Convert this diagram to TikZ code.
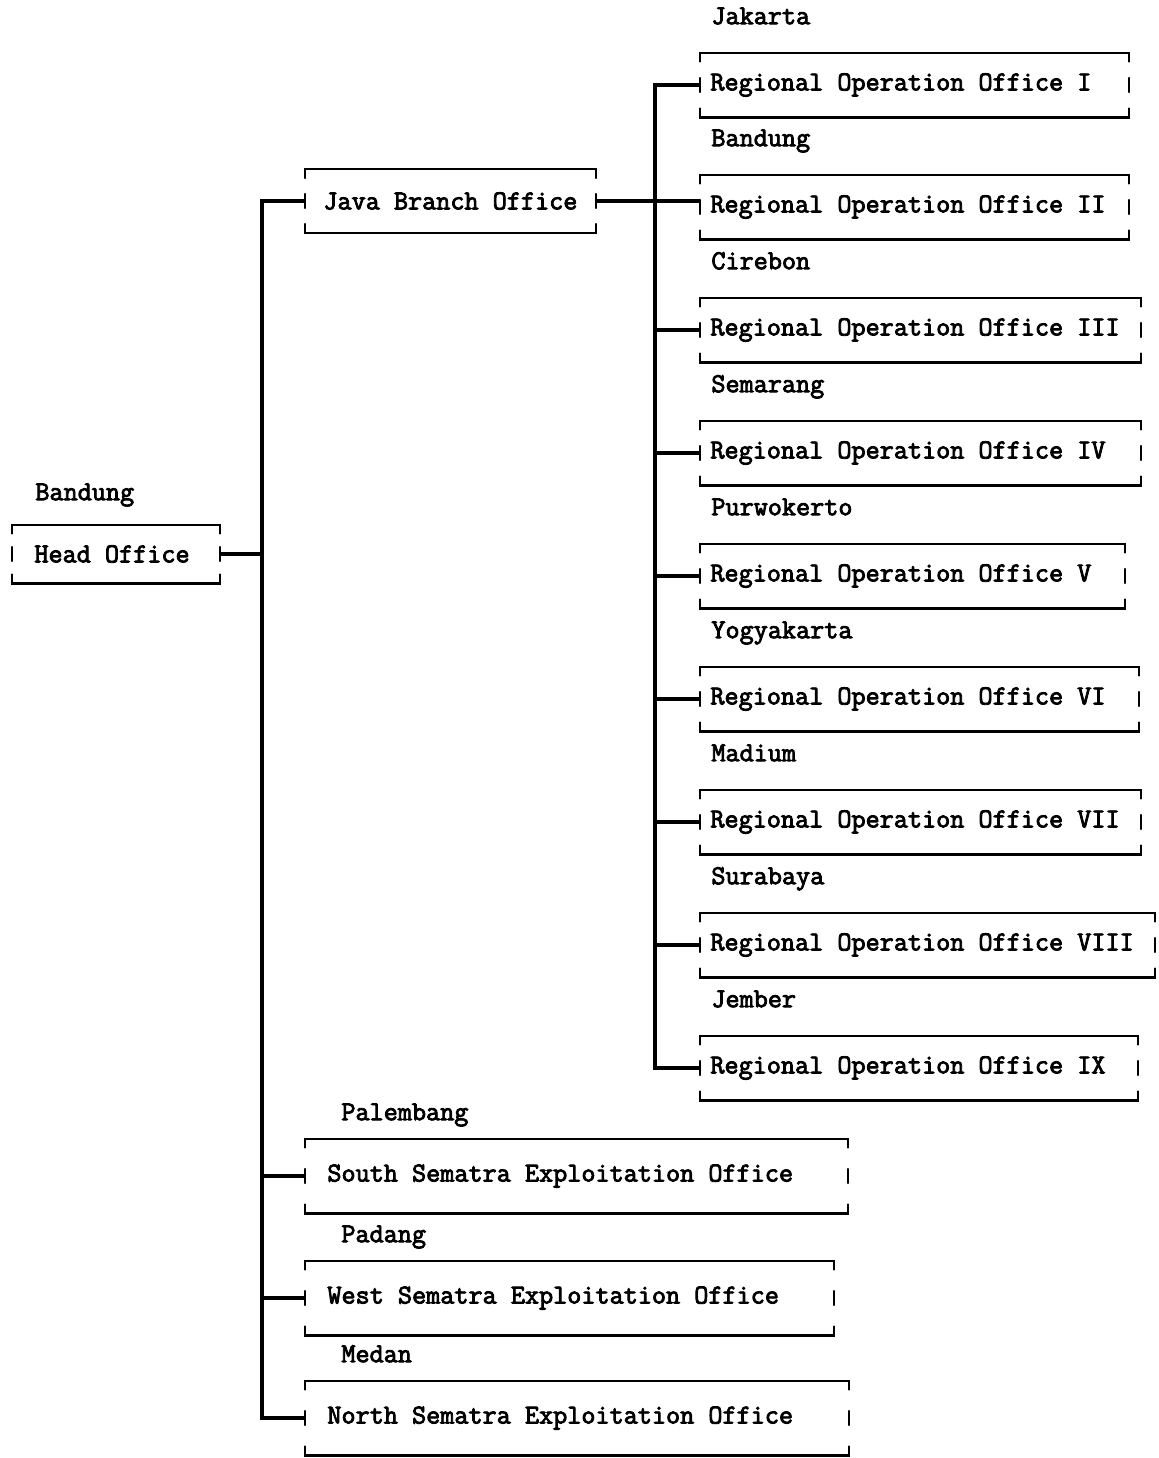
\documentclass[tikz,border=0pt]{standalone}
\usepackage{fontspec}
\usetikzlibrary{positioning}

\newfontfamily\typewriter{Latin Modern Mono}[FakeBold=3]
\newcommand\typefont{\fontsize{13.7}{16}\selectfont\typewriter}
% text set flush left on a fixed width
\newcommand\padded[2]{\makebox[#1][l]{#2}}

\tikzset{
  officebox/.style={font=\typefont, anchor=west, inner ysep=0pt, inner xsep=11pt,
    minimum height=37pt},
  regbox/.style={officebox, inner xsep=5pt, minimum height=32pt},
  cityname/.style={font=\typefont, inner sep=0pt, text depth=0pt},
  link/.style={line width=1.7pt},
  frame/.style={line width=1.1pt, line cap=round}
}

\begin{document}
\begin{tikzpicture}[x=0.5pt,y=-0.5pt]
\useasboundingbox (0,0) rectangle (1159,1458);

% head office
\node[officebox, minimum height=29pt] (head) at (12,554) {\padded{81.5pt}{Head Office}};
\node[cityname, above right=12pt and 11.5pt of head.north west] (hcity) {Bandung};

% java branch and its regional offices
\node[officebox, inner xsep=9pt, minimum height=31.5pt] (java) at (305,201) {Java Branch Office};

\foreach \i/\rn/\city/\y/\tw in {1/I/Jakarta/85/204pt, 2/II/Bandung/207/204pt,
    3/III/Cirebon/330/210pt, 4/IV/Semarang/453/210pt, 5/V/Purwokerto/576/202pt,
    6/VI/Yogyakarta/699/209pt, 7/VII/Madium/822/210pt, 8/VIII/Surabaya/945/217pt,
    9/IX/Jember/1068/208.5pt}{
  \node[regbox] (r\i) at (700,\y) {\padded{\tw}{Regional Operation Office \rn}};
  \node[cityname, above right=14pt and 5.5pt of r\i.north west] (c\i) {\city};
}

% sumatra offices
\node[officebox] (south) at (305,1176) {\padded{249pt}{South Sematra Exploitation Office}};
\node[officebox] (west) at (305,1298) {\padded{242pt}{West Sematra Exploitation Office}};
\node[officebox] (north) at (305,1418) {\padded{249.5pt}{North Sematra Exploitation Office}};
\node[cityname, above right=9pt and 18pt of south.north west] (scity) {Palembang};
\node[cityname, above right=9pt and 18pt of west.north west] (wcity) {Padang};
\node[cityname, above right=9pt and 18pt of north.north west] (ncity) {Medan};

% broken typewriter frames
\foreach \b in {head,java,south,west,north,r1,r2,r3,r4,r5,r6,r7,r8,r9}{
  \draw[frame] ([yshift=-4.5pt]\b.north west) -- (\b.north west) -- (\b.north east) -- ([yshift=-4.5pt]\b.north east);
  \draw[frame] ([yshift=4.5pt]\b.south west) -- (\b.south west) -- (\b.south east) -- ([yshift=4.5pt]\b.south east);
  \draw[frame] ([yshift=3.5pt]\b.west) -- ([yshift=-3.5pt]\b.west);
  \draw[frame] ([yshift=3.5pt]\b.east) -- ([yshift=-3.5pt]\b.east);
}

% connectors
\coordinate (trunk) at (262,0);
\coordinate (subtrunk) at (655,0);
\draw[link] (java.west) -- (java.west -| trunk) -- (north.west -| trunk) -- (north.west);
\draw[link] (head.east) -- (head.east -| trunk);
\foreach \b in {south,west}
  \draw[link] (\b.west) -- (\b.west -| trunk);
\draw[link] (r1.west) -- (r1.west -| subtrunk) -- (r9.west -| subtrunk) -- (r9.west);
\foreach \i in {3,...,8}
  \draw[link] (r\i.west) -- (r\i.west -| subtrunk);
\draw[link] (java.east) -- (java.east -| r2.west);
\end{tikzpicture}
\end{document}
